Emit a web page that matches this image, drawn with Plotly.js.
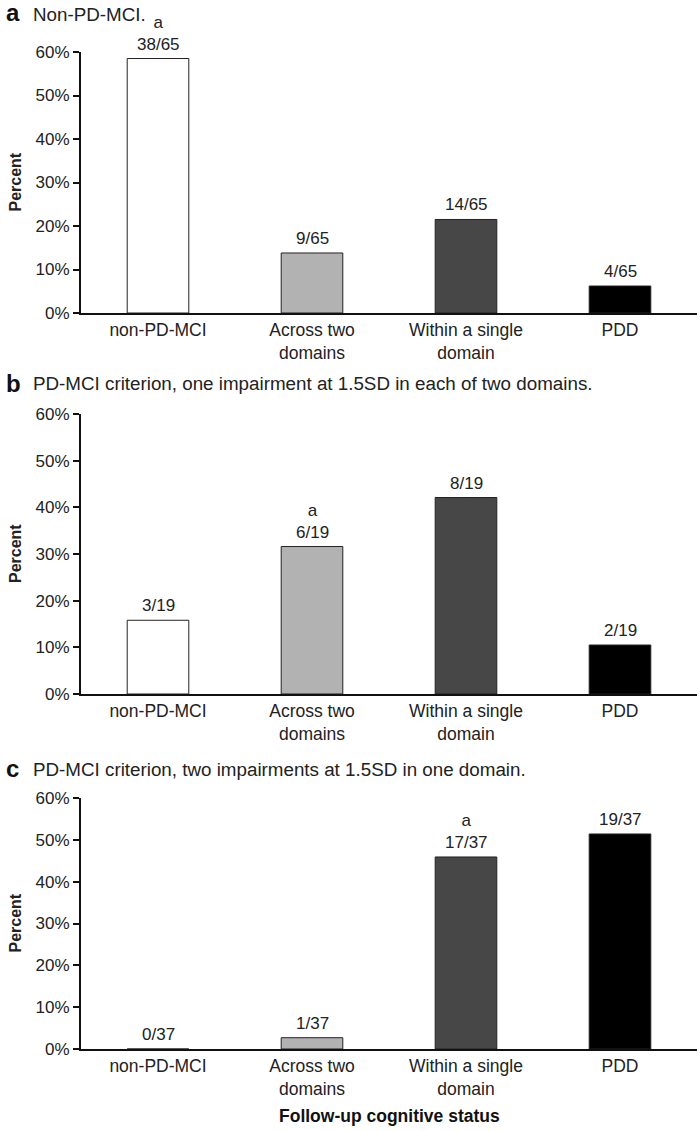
<!DOCTYPE html>
<html>
<head>
<meta charset="utf-8">
<script src="https://cdn.plot.ly/plotly-3.0.1.min.js"></script>
<style>html,body{margin:0;padding:0;background:#fff;}#chart{width:700px;height:1131px;}</style>
</head>
<body>
<div id="chart"></div>
<script>
const categories = ["non-PD-MCI", "Across two<br>domains", "Within a single<br>domain", "PDD"];
const barColors = ["#ffffff", "#b2b2b2", "#474747", "#000000"];

const panelLetters = ["a", "b", "c"];
const panelTitles = [
  "Non-PD-MCI.",
  "PD-MCI criterion, one impairment at 1.5SD in each of two domains.",
  "PD-MCI criterion, two impairments at 1.5SD in one domain."
];

const valuesA = [0.585, 0.138, 0.215, 0.062];
const valuesB = [0.158, 0.316, 0.421, 0.105];
const valuesC = [0.0, 0.027, 0.459, 0.514];

const labelsA = ["38/65", "9/65", "14/65", "4/65"];
const labelsB = ["3/19", "6/19", "8/19", "2/19"];
const labelsC = ["0/37", "1/37", "17/37", "19/37"];

const markA = ["a", "", "", ""];
const markB = ["", "a", "", ""];
const markC = ["", "", "a", ""];

const yTickVals = [0, 0.1, 0.2, 0.3, 0.4, 0.5, 0.6];
const yTickText = ["0%", "10%", "20%", "30%", "40%", "50%", "60%"];

const W = 700, H = 1131;
// pixel geometry of each panel: [top(60%), bottom(0%)], title y
const panelPx = [[52, 313], [414, 694], [798, 1049]];
const titlePx = [13, 383, 768];
const xLeft = 81, xRight = 697;

const FONT = "Liberation Sans, Arial, sans-serif";
const values = [valuesA, valuesB, valuesC];
const labels = [labelsA, labelsB, labelsC];
const marks = [markA, markB, markC];

const data = [];
const annotations = [];
const layout = {
  width: W, height: H,
  margin: {l: 0, r: 0, t: 0, b: 0},
  paper_bgcolor: "#fff", plot_bgcolor: "#fff",
  showlegend: false,
  font: {family: FONT, color: "#222", size: 17}
};

for (let i = 0; i < 3; i++) {
  const sfx = i === 0 ? "" : String(i + 1);
  const xa = "x" + sfx, ya = "y" + sfx;
  data.push({
    type: "bar",
    x: categories,
    y: values[i],
    xaxis: xa, yaxis: ya,
    marker: {color: barColors, line: {color: "#222", width: 1}},
    width: 0.4,
    hoverinfo: "none"
  });
  const [top, bot] = panelPx[i];
  layout["xaxis" + sfx] = {
    domain: [xLeft / W, xRight / W],
    anchor: ya,
    type: "category",
    range: [-0.5, 3.5],
    showline: true, linecolor: "#111", linewidth: 2,
    ticks: "", showgrid: false, zeroline: false,
    tickfont: {family: FONT, size: 17.5, color: "#222"},
    fixedrange: true
  };
  layout["yaxis" + sfx] = {
    domain: [1 - bot / H, 1 - top / H],
    anchor: xa,
    range: [0, 0.6],
    tickvals: yTickVals, ticktext: yTickText,
    showline: true, linecolor: "#111", linewidth: 2,
    ticks: "outside", ticklen: 6, tickwidth: 2, tickcolor: "#111",
    showgrid: false, zeroline: false,
    tickfont: {family: FONT, size: 17, color: "#222"},
    fixedrange: true
  };
  // panel letter and title
  annotations.push({
    xref: "paper", yref: "paper", x: 4 / W, y: 1 - titlePx[i] / H,
    xanchor: "left", yanchor: "middle", showarrow: false,
    text: "<b>" + panelLetters[i] + "</b>",
    font: {family: FONT, size: 24, color: "#111"}
  });
  annotations.push({
    xref: "paper", yref: "paper", x: 31 / W, y: 1 - (titlePx[i] + 1) / H,
    xanchor: "left", yanchor: "middle", showarrow: false,
    text: panelTitles[i],
    font: {family: FONT, size: 18.8, color: "#222"}
  });
  // y axis title
  annotations.push({
    xref: "paper", yref: "paper", x: 15 / W, y: 1 - ((top + bot) / 2) / H,
    xanchor: "center", yanchor: "middle", showarrow: false, textangle: -90,
    text: "<b>Percent</b>",
    font: {family: FONT, size: 16, color: "#222"}
  });
  // bar labels
  for (let j = 0; j < 4; j++) {
    const txt = marks[i][j] ? marks[i][j] + "<br>" + labels[i][j] : labels[i][j];
    annotations.push({
      xref: xa, yref: ya, x: categories[j], y: values[i][j],
      xanchor: "center", yanchor: "bottom", showarrow: false, yshift: 3,
      text: txt,
      font: {family: FONT, size: 17, color: "#222"}
    });
  }
}
annotations.push({
  xref: "paper", yref: "paper", x: ((xLeft + xRight) / 2) / W, y: 1 - 1116 / H,
  xanchor: "center", yanchor: "middle", showarrow: false,
  text: "<b>Follow-up cognitive status</b>",
  font: {family: FONT, size: 17.5, color: "#111"}
});
layout.annotations = annotations;

Plotly.newPlot("chart", data, layout, {staticPlot: true, displayModeBar: false});
</script>
</body>
</html>
